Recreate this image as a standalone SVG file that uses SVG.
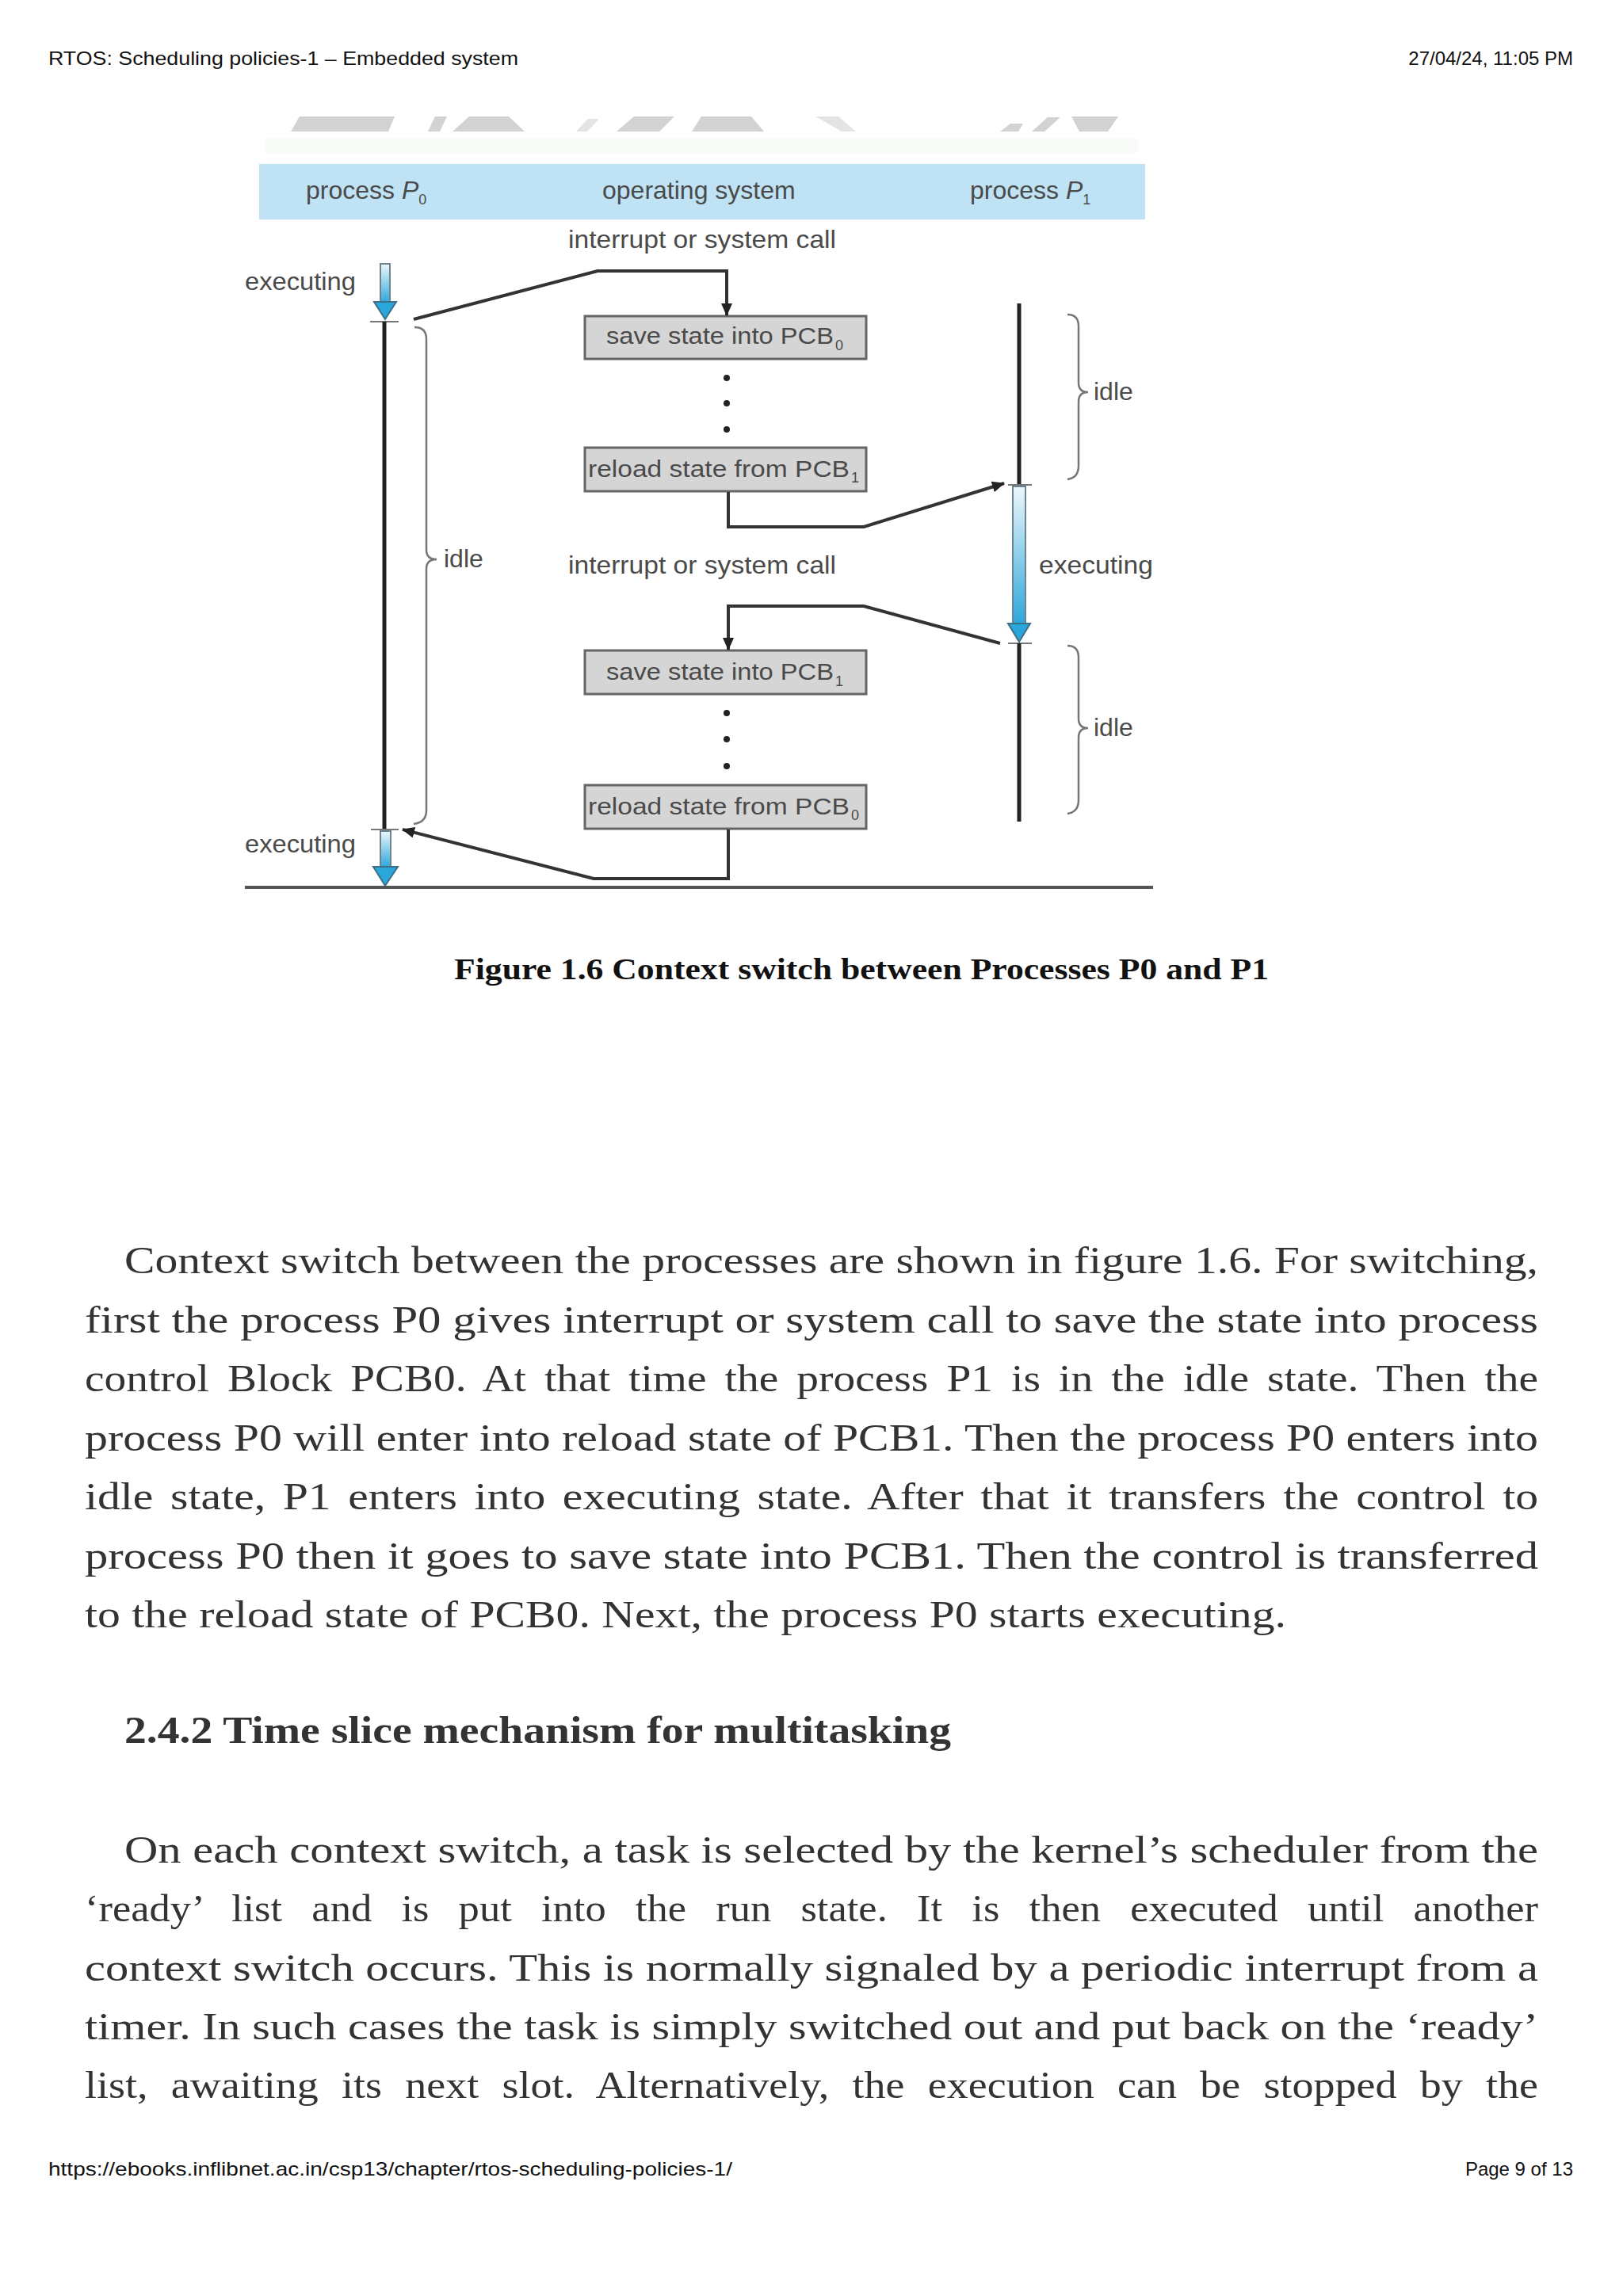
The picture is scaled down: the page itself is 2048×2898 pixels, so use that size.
<svg xmlns="http://www.w3.org/2000/svg" width="2048" height="2898" viewBox="0 0 2048 2898">
<style>
.pg{font-family:"Liberation Sans",Arial,sans-serif;font-size:24px;fill:#111}
.lbl{font-family:"Liberation Sans",Arial,sans-serif;font-size:32px;fill:#4a4a4a}
.sub{font-family:"Liberation Sans",Arial,sans-serif;font-size:18px;fill:#4a4a4a}
.boxt{font-family:"Liberation Sans",Arial,sans-serif;font-size:30px;fill:#4a4a4a}
.box{fill:#d5d5d5;stroke:#666;stroke-width:3}
.conn{fill:none;stroke:#333;stroke-width:4;stroke-linejoin:miter}
.brace{fill:none;stroke:#777;stroke-width:2.5}
.tl{stroke:#222;stroke-width:5}
.tick{stroke:#777;stroke-width:2}
.shaft{fill:url(#blueg);stroke:#6d8593;stroke-width:2}
.head{fill:#2aa6db;stroke:#3e6f86;stroke-width:2}
.dot{fill:#222}
.body{font-family:"Liberation Serif","Times New Roman",serif;font-size:48px;fill:#333}
.bold{font-weight:bold}
.cap{font-family:"Liberation Serif","Times New Roman",serif;font-size:38px;font-weight:bold;fill:#111}
.wm{fill:#d2d2d2}
</style>
<defs>
<linearGradient id="blueg" x1="0" y1="0" x2="0" y2="1">
<stop offset="0" stop-color="#eef7fb"/>
<stop offset="1" stop-color="#2aa6db"/>
</linearGradient>
<marker id="ah" markerUnits="userSpaceOnUse" markerWidth="16" markerHeight="14" viewBox="0 0 16 14" refX="15" refY="7" orient="auto">
<path d="M0,0 L16,7 L0,14 z" fill="#222"/>
</marker>
</defs>
<rect width="2048" height="2898" fill="#fff"/>

<g id="page-header">
<text class="pg" x="61" y="82" textLength="593" lengthAdjust="spacingAndGlyphs">RTOS: Scheduling policies-1 – Embedded system</text>
<text class="pg" x="1985" y="82" text-anchor="end">27/04/24, 11:05 PM</text>
</g>

<g id="watermark">
<polygon class="wm" points="378,147 498,147 490,166 367,166"/>
<polygon class="wm" points="549,147 564,147 555,166 540,166"/>
<polygon class="wm" points="592,147 642,147 662,166 571,166"/>
<polygon class="wm" points="742,150 756,150 741,166 727,166" opacity="0.6"/>
<polygon class="wm" points="800,147 851,147 832,166 778,166"/>
<polygon class="wm" points="885,147 948,147 964,166 873,166"/>
<polygon class="wm" points="1029,147 1058,147 1080,166 1062,166" opacity="0.6"/>
<polygon class="wm" points="1275,156 1291,156 1285,166 1262,166"/>
<polygon class="wm" points="1322,148 1338,148 1318,166 1302,166"/>
<polygon class="wm" points="1352,147 1411,147 1398,166 1362,166"/>
<rect x="335" y="175" width="1101" height="18" fill="#f9fbf9"/>
</g>

<g id="header-band">
<rect x="327" y="207" width="1118" height="70" fill="#bfe2f4"/>
<text class="lbl" x="386" y="251">process <tspan font-style="italic">P</tspan><tspan class="sub" dy="7">0</tspan></text>
<text class="lbl" x="760" y="251">operating system</text>
<text class="lbl" x="1224" y="251">process <tspan font-style="italic">P</tspan><tspan class="sub" dy="7">1</tspan></text>
</g>

<g id="labels">
<text class="lbl" x="717" y="313" textLength="338" lengthAdjust="spacingAndGlyphs">interrupt or system call</text>
<text class="lbl" x="717" y="724" textLength="338" lengthAdjust="spacingAndGlyphs">interrupt or system call</text>
<text class="lbl" x="309" y="366" textLength="140" lengthAdjust="spacingAndGlyphs">executing</text>
<text class="lbl" x="309" y="1076" textLength="140" lengthAdjust="spacingAndGlyphs">executing</text>
<text class="lbl" x="1311" y="724" textLength="144" lengthAdjust="spacingAndGlyphs">executing</text>
<text class="lbl" x="560" y="716">idle</text>
<text class="lbl" x="1380" y="505">idle</text>
<text class="lbl" x="1380" y="929">idle</text>
</g>

<g id="process-p0">
<rect class="shaft" x="480" y="333" width="12" height="50"/>
<polygon class="head" points="472,381 500,381 486,403"/>
<line class="tick" x1="467" y1="406" x2="503" y2="406"/>
<line class="tl" x1="485" y1="406" x2="485" y2="1047"/>
<line class="tick" x1="468" y1="1047" x2="503" y2="1047"/>
<rect class="shaft" x="480" y="1049" width="13" height="46"/>
<polygon class="head" points="471,1094 502,1094 486,1118"/>
<path class="brace" d="M523,413 Q538,413 538,428 L538,694 Q538,706 551,706 Q538,706 538,718 L538,1023 Q538,1038 522,1040"/>
</g>

<g id="process-p1">
<line class="tl" x1="1286" y1="383" x2="1286" y2="611"/>
<line class="tick" x1="1272" y1="612" x2="1302" y2="612"/>
<rect class="shaft" x="1278" y="614" width="16" height="176"/>
<polygon class="head" points="1272,787 1300,787 1286,810"/>
<line class="tick" x1="1272" y1="812" x2="1302" y2="812"/>
<line class="tl" x1="1286" y1="812" x2="1286" y2="1037"/>
<path class="brace" d="M1347,397 Q1361,397 1361,412 L1361,483 Q1361,495 1373,495 Q1361,495 1361,507 L1361,588 Q1361,603 1347,605"/>
<path class="brace" d="M1347,815 Q1361,815 1361,830 L1361,907 Q1361,919 1373,919 Q1361,919 1361,931 L1361,1010 Q1361,1025 1347,1027"/>
</g>

<g id="box-save-pcb0">
<rect class="box" x="738" y="399" width="355" height="54"/>
<text class="boxt" x="765" y="434" textLength="287" lengthAdjust="spacingAndGlyphs">save state into PCB</text>
<text class="sub" x="1054" y="442">0</text>
</g>
<g id="dots-1">
<circle class="dot" cx="917" cy="477" r="4"/>
<circle class="dot" cx="917" cy="509" r="4"/>
<circle class="dot" cx="917" cy="542" r="4"/>
</g>
<g id="box-reload-pcb1">
<rect class="box" x="738" y="565" width="355" height="55"/>
<text class="boxt" x="742" y="602" textLength="330" lengthAdjust="spacingAndGlyphs">reload state from PCB</text>
<text class="sub" x="1074" y="609">1</text>
</g>
<g id="box-save-pcb1">
<rect class="box" x="738" y="821" width="355" height="55"/>
<text class="boxt" x="765" y="858" textLength="287" lengthAdjust="spacingAndGlyphs">save state into PCB</text>
<text class="sub" x="1054" y="866">1</text>
</g>
<g id="dots-2">
<circle class="dot" cx="917" cy="900" r="4"/>
<circle class="dot" cx="917" cy="933" r="4"/>
<circle class="dot" cx="917" cy="967" r="4"/>
</g>
<g id="box-reload-pcb0">
<rect class="box" x="738" y="991" width="355" height="55"/>
<text class="boxt" x="742" y="1028" textLength="330" lengthAdjust="spacingAndGlyphs">reload state from PCB</text>
<text class="sub" x="1074" y="1035">0</text>
</g>

<g id="connectors">
<path class="conn" d="M522,403 L754,342 L917,342 L917,398" marker-end="url(#ah)"/>
<path class="conn" d="M919,621 L919,665 L1090,665 L1267,610" marker-end="url(#ah)"/>
<path class="conn" d="M1262,812 L1090,765 L919,765 L919,820" marker-end="url(#ah)"/>
<path class="conn" d="M919,1047 L919,1109 L749,1109 L508,1047" marker-end="url(#ah)"/>
</g>

<g id="baseline">
<line x1="309" y1="1120" x2="1455" y2="1120" stroke="#555" stroke-width="4"/>
</g>

<g id="caption">
<text class="cap" x="573" y="1236" textLength="1028" lengthAdjust="spacingAndGlyphs">Figure 1.6 Context switch between Processes P0 and P1</text>
</g>

<g id="paragraph-1">
<text class="body" x="157" y="1607" textLength="1784" lengthAdjust="spacingAndGlyphs">Context switch between the processes are shown in figure 1.6. For switching,</text>
<text class="body" x="107" y="1682" textLength="1834" lengthAdjust="spacingAndGlyphs">first the process P0 gives interrupt or system call to save the state into process</text>
<text class="body" x="107" y="1756" textLength="1834" lengthAdjust="spacingAndGlyphs" word-spacing="8">control Block PCB0. At that time the process P1 is in the idle state. Then the</text>
<text class="body" x="107" y="1831" textLength="1834" lengthAdjust="spacingAndGlyphs">process P0 will enter into reload state of PCB1. Then the process P0 enters into</text>
<text class="body" x="107" y="1905" textLength="1834" lengthAdjust="spacingAndGlyphs" word-spacing="6">idle state, P1 enters into executing state. After that it transfers the control to</text>
<text class="body" x="107" y="1980" textLength="1834" lengthAdjust="spacingAndGlyphs">process P0 then it goes to save state into PCB1. Then the control is transferred</text>
<text class="body" x="107" y="2054" textLength="1516" lengthAdjust="spacingAndGlyphs">to the reload state of PCB0. Next, the process P0 starts executing.</text>
</g>

<g id="heading">
<text class="body bold" x="157" y="2200" textLength="1043" lengthAdjust="spacingAndGlyphs">2.4.2 Time slice mechanism for multitasking</text>
</g>

<g id="paragraph-2">
<text class="body" x="157" y="2351" textLength="1784" lengthAdjust="spacingAndGlyphs">On each context switch, a task is selected by the kernel’s scheduler from the</text>
<text class="body" x="107" y="2425" textLength="1834" lengthAdjust="spacingAndGlyphs" word-spacing="22">‘ready’ list and is put into the run state. It is then executed until another</text>
<text class="body" x="107" y="2500" textLength="1834" lengthAdjust="spacingAndGlyphs">context switch occurs. This is normally signaled by a periodic interrupt from a</text>
<text class="body" x="107" y="2574" textLength="1834" lengthAdjust="spacingAndGlyphs">timer. In such cases the task is simply switched out and put back on the ‘ready’</text>
<text class="body" x="107" y="2648" textLength="1834" lengthAdjust="spacingAndGlyphs" word-spacing="14">list, awaiting its next slot. Alternatively, the execution can be stopped by the</text>
</g>

<g id="page-footer">
<text class="pg" x="61" y="2746" textLength="863" lengthAdjust="spacingAndGlyphs">https://ebooks.inflibnet.ac.in/csp13/chapter/rtos-scheduling-policies-1/</text>
<text class="pg" x="1985" y="2746" text-anchor="end">Page 9 of 13</text>
</g>
</svg>
